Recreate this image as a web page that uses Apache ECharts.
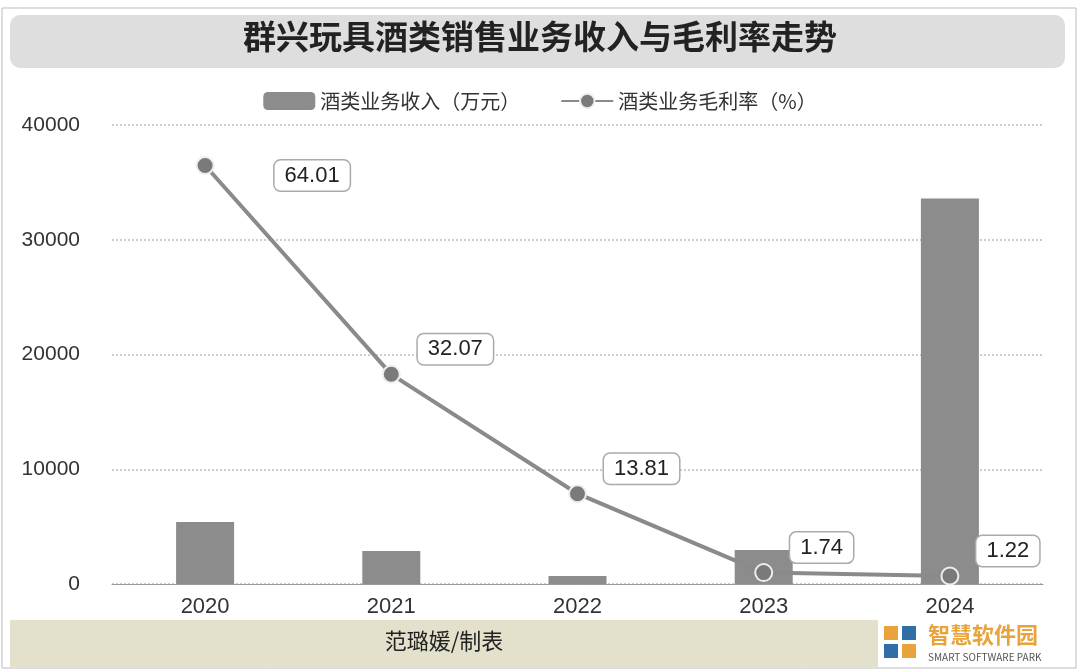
<!DOCTYPE html>
<html><head><meta charset="utf-8">
<script src="https://cdn.jsdelivr.net/npm/echarts@6/dist/echarts.min.js"></script>
<style>html,body{margin:0;padding:0;background:#fff}#c{width:1080px;height:672px}</style>
</head><body><div id="c"></div>
<script>
const categories=['2020','2021','2022','2023','2024'];
const revenue=[5400,2880,700,2960,33600];
const margin=[64.01,32.07,13.81,1.74,1.22];
const labelOffsets=[[55,10],[12,-25],[12,-25],[12,-25],[12,-25]];
const yTicks=[0,10000,20000,30000,40000];
const chart=echarts.init(document.getElementById('c'));
const F='"Noto Sans CJK SC","Noto Sans",sans-serif';
chart.setOption({
 animation:false,
 graphic:[
  {type:'rect',shape:{x:2,y:8,width:1074,height:660},style:{fill:'none',stroke:'#bbb',lineWidth:1}},
  {type:'rect',shape:{x:10,y:15,width:1055,height:53,r:10},style:{fill:'#dedede'}},
  {type:'text',left:'center',top:20,style:{text:'群兴玩具酒类销售业务收入与毛利率走势',font:'bold 33px '+F,fill:'#222'}},
  {type:'rect',shape:{x:10,y:620,width:868,height:48},style:{fill:'#e3e1cc'}},
  {type:'text',x:444,y:630,style:{text:'范璐媛/制表',font:'22px '+F,fill:'#222',textAlign:'center'}},
  {type:'rect',shape:{x:884,y:626,width:14,height:14},style:{fill:'#e8a33c'}},
  {type:'rect',shape:{x:902,y:626,width:14,height:14},style:{fill:'#2f6fa5'}},
  {type:'rect',shape:{x:884,y:644,width:14,height:14},style:{fill:'#2f6fa5'}},
  {type:'rect',shape:{x:902,y:644,width:14,height:14},style:{fill:'#e8a33c'}},
  {type:'text',x:928,y:624,style:{text:'智慧软件园',font:'bold 22px '+F,fill:'#e8a33c'}},
  {type:'text',x:928,y:652,style:{text:'SMART SOFTWARE PARK',font:'10px '+F,fill:'#555'}}
 ],
 legend:{top:86,left:'center',itemGap:40,textStyle:{fontSize:20,color:'#333',fontFamily:F},itemWidth:52,itemHeight:18,
  data:[{name:'酒类业务收入（万元）'},{name:'酒类业务毛利率（%）'}]},
 grid:{left:112,right:37,top:125,bottom:88},
 xAxis:{type:'category',data:categories,axisTick:{show:false},axisLine:{lineStyle:{color:'#999'}},
  axisLabel:{fontSize:22,color:'#333',margin:12,fontFamily:'"Liberation Sans",sans-serif'}},
 yAxis:[{type:'value',min:0,max:40000,interval:10000,
  axisLabel:{fontSize:21,color:'#333',margin:32,fontFamily:'"Liberation Sans",sans-serif',formatter:v=>yTicks.includes(v)?String(v):''},
  splitLine:{lineStyle:{type:'dotted',color:'#ccc',width:2}}},
  {type:'value',min:0,max:70.2,show:false,splitLine:{show:false}}],
 series:[
  {name:'酒类业务收入（万元）',type:'bar',data:revenue,barWidth:58,itemStyle:{color:'#8c8c8c'}},
  {name:'酒类业务毛利率（%）',type:'line',yAxisIndex:1,symbol:'circle',symbolSize:17,zlevel:1,z:10,showAllSymbol:true,
   lineStyle:{color:'#8a8a8a',width:4},itemStyle:{color:'#7a7a7a',borderColor:'#eee',borderWidth:2,opacity:1},
   data:margin.map((v,i)=>({value:v,label:{offset:labelOffsets[i]}})),
   label:{show:true,position:'right',fontSize:22,color:'#222',fontFamily:'"Liberation Sans",sans-serif',
    backgroundColor:'#fff',borderColor:'#aaa',borderWidth:1.5,borderRadius:6,padding:[4,10],
    formatter:p=>p.value.toFixed(2)}}
 ]
});
</script></body></html>
